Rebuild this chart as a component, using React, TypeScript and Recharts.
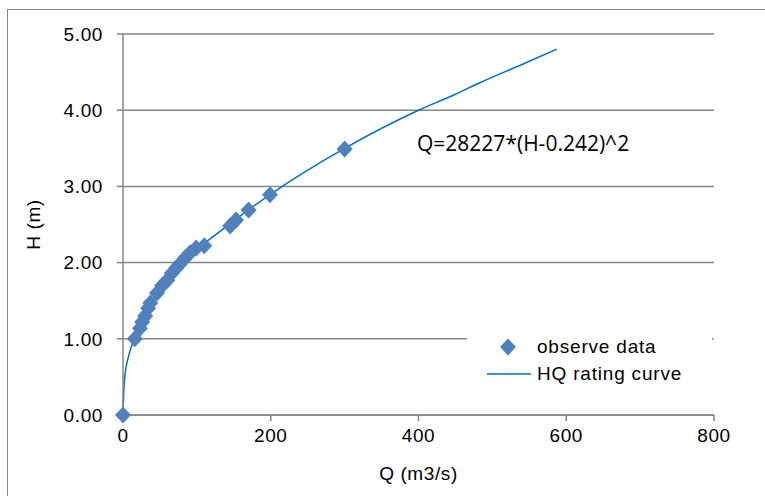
import { CartesianGrid, ComposedChart, Legend, Line, Scatter, XAxis, YAxis } from "recharts";

// observed discharge (m3/s) and stage (m)
const observedQ = [0, 16, 23, 26, 30, 34, 37, 46, 53, 60, 66, 72, 77, 84, 91, 99, 110, 145, 153, 170, 199, 300];
const observedH = [0, 1.0, 1.14, 1.22, 1.3, 1.4, 1.47, 1.6, 1.7, 1.77, 1.86, 1.93, 1.98, 2.06, 2.13, 2.19, 2.22, 2.48, 2.56, 2.69, 2.89, 3.49];

// rating curve
const curveQ = [0, 1, 3, 7, 15, 40, 80, 130, 200, 300, 400, 450, 483, 540, 587];
const curveH = [0, 0.3, 0.55, 0.75, 1.0, 1.5, 2.0, 2.4, 2.9, 3.5, 4.0, 4.21, 4.36, 4.6, 4.8];

const xTicks = [0, 200, 400, 600, 800];
const yTicks = [0, 1, 2, 3, 4, 5];

const seriesNames = ["observe data", "HQ rating curve"];
const equation = "Q=28227*(H-0.242)^2";

const observed = observedQ.map((q, i) => ({ q, h: observedH[i] }));
const curve = curveQ.map((q, i) => ({ q, h: curveH[i] }));

const axisColor = "#868686";
const pointColor = "#4f81bd";
const lineColor = "#0070c0";
const font = "'Liberation Sans', Arial, sans-serif";
const textStyle = { fill: "#000", fontSize: 19, fontFamily: font, letterSpacing: 0.6 };

function Diamond(props: any) {
  const { cx, cy } = props;
  if (cx == null || cy == null) return null;
  return <polygon points={`${cx},${cy - 8.5} ${cx + 8},${cy} ${cx},${cy + 8.5} ${cx - 8},${cy}`} fill={pointColor} />;
}

function LegendBox() {
  return (
    <div style={{ position: "relative", width: 245, height: 70, background: "#fff", fontFamily: font, fontSize: 19, letterSpacing: 0.8, color: "#000", lineHeight: "22px" }}>
      <svg width={70} height={70} style={{ position: "absolute", left: 0, top: 0 }}>
        <polygon points="41,13.5 49,22 41,30.5 33,22" fill={pointColor} />
        <line x1={20} x2={64} y1={49} y2={49} stroke={lineColor} strokeWidth={1.5} />
      </svg>
      <span style={{ position: "absolute", left: 70, top: 11 }}>{seriesNames[0]}</span>
      <span style={{ position: "absolute", left: 70, top: 38 }}>{seriesNames[1]}</span>
    </div>
  );
}

export default function App() {
  return (
    <div style={{ position: "fixed", inset: 0, overflow: "hidden", background: "#fff" }}>
      <div style={{ position: "absolute", left: 7, top: 9, width: 900, height: 700, border: `1px solid ${axisColor}` }} />
      <div style={{ position: "absolute", left: 0, top: 0 }}>
        <ComposedChart width={765} height={496} margin={{ top: 34, right: 51, bottom: 31, left: 10 }}>
          <CartesianGrid vertical={false} stroke={axisColor} strokeWidth={1.5} />
          <XAxis
            dataKey="q"
            type="number"
            domain={[0, 800]}
            ticks={xTicks}
            height={50}
            stroke={axisColor}
            strokeWidth={1.5}
            tickSize={6}
            tickMargin={8}
            tick={textStyle}
            label={{ value: "Q (m3/s)", position: "bottom", offset: 2, ...textStyle }}
          />
          <YAxis
            dataKey="h"
            type="number"
            domain={[0, 5]}
            ticks={yTicks}
            width={113}
            stroke={axisColor}
            strokeWidth={1.5}
            tickSize={6}
            tickMargin={14}
            tickFormatter={(v: number) => v.toFixed(2)}
            tick={textStyle}
            label={{ value: "H (m)", angle: -90, position: "center", dx: -33, ...textStyle }}
          />
          <Legend
            layout="vertical"
            align="center"
            verticalAlign="middle"
            content={() => <LegendBox />}
            wrapperStyle={{ left: 467, top: 325, width: 245, height: 70 }}
          />
          <Line
            data={curve}
            dataKey="h"
            name={seriesNames[1]}
            type="monotone"
            stroke={lineColor}
            strokeWidth={1.5}
            dot={false}
            activeDot={false}
            isAnimationActive={false}
          />
          <Scatter data={observed} dataKey="h" name={seriesNames[0]} fill={pointColor} shape={<Diamond />} isAnimationActive={false} />
        </ComposedChart>
      </div>
      <div style={{ position: "absolute", left: 417, top: 133, fontFamily: "'Open Sans', sans-serif", fontSize: 21, lineHeight: 1, color: "#000", whiteSpace: "nowrap" }}>
        {equation}
      </div>
    </div>
  );
}
